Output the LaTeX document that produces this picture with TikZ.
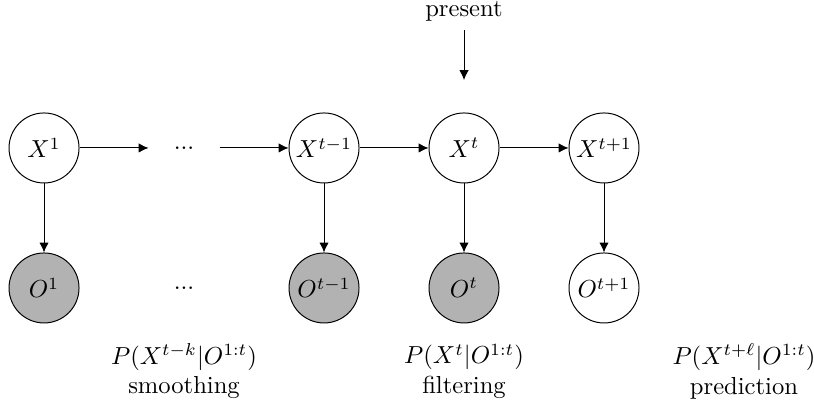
\documentclass[tikz,border=0pt]{standalone}
\usetikzlibrary{arrows.meta}
\begin{document}
\begin{tikzpicture}[
  var/.style={circle,draw,minimum size=1cm,inner sep=0pt},
  obs/.style={var,fill=black!30},
  gap/.style={circle,minimum size=1cm,inner sep=0pt},
  arr/.style={-{Latex[length=4pt,width=3.8pt]}},
  lbl/.style={align=center}
]
\useasboundingbox (-0.629,-3.743) rectangle (11.0,2.114);
\node[var] (x1) at (0,0) {$X^1$};
\node[gap] (xd) at (2,0) {...};
\node[var] (xtm) at (4,0) {$X^{t-1}$};
\node[var] (xt) at (6,0) {$X^t$};
\node[var] (xtp) at (8,0) {$X^{t+1}$};
\node[obs] (o1) at (0,-2) {$O^1$};
\node[gap] (od) at (2,-2) {...};
\node[obs] (otm) at (4,-2) {$O^{t-1}$};
\node[obs] (ot) at (6,-2) {$O^t$};
\node[var] (otp) at (8,-2) {$O^{t+1}$};
\node (pres) at (6,1.95) {present};
\coordinate (prestip) at (6,0.97);
\draw[arr] (x1) -- (xd);
\draw[arr] (xd) -- (xtm);
\draw[arr] (xtm) -- (xt);
\draw[arr] (xt) -- (xtp);
\draw[arr] (x1) -- (o1);
\draw[arr] (xtm) -- (otm);
\draw[arr] (xt) -- (ot);
\draw[arr] (xtp) -- (otp);
\draw[arr] (pres) -- (prestip);
\node[lbl] (sm) at (2,-3.19) {$P(X^{t-k}|O^{1:t})$\\smoothing};
\node[lbl] (fi) at (6,-3.19) {$P(X^{t}|O^{1:t})$\\filtering};
\node[lbl] (pr) at (10,-3.19) {$P(X^{t+\ell}|O^{1:t})$\\prediction};
\end{tikzpicture}
\end{document}
